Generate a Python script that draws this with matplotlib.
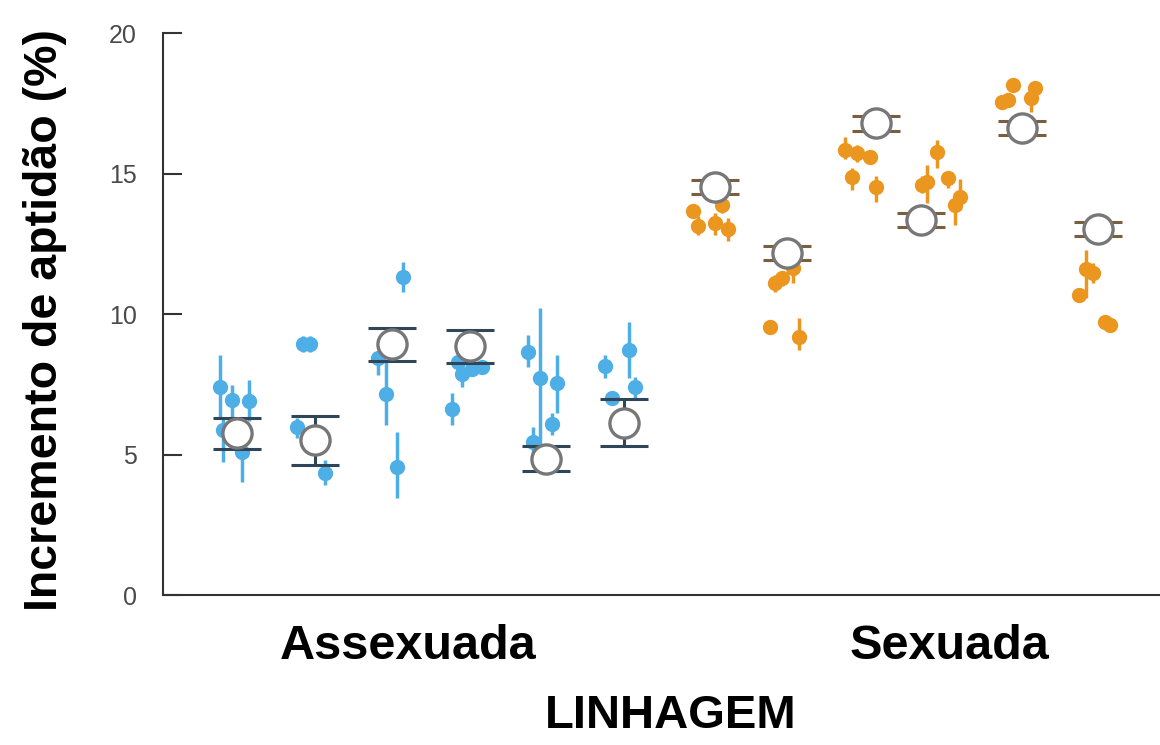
import matplotlib.pyplot as plt

# line positions along the x axis (arbitrary units) and mean fitness gain (%)
asex_pos = [0.95, 1.96, 2.95, 3.96, 4.94, 5.94]
asex_mean = [5.75, 5.5, 8.92, 8.85, 4.85, 6.13]
asex_se = [0.55, 0.88, 0.58, 0.58, 0.45, 0.83]

sex_pos = [7.12, 8.05, 9.2, 9.78, 11.08, 12.06]
sex_mean = [14.52, 12.17, 16.78, 13.35, 16.62, 13.02]
sex_se = [0.26, 0.26, 0.27, 0.26, 0.26, 0.26]

# replicate populations: x, value, upper and lower end of error bar
asex_rep_x = [0.73, 0.89, 1.11, 0.77, 1.02,
              1.81, 1.9, 1.73, 2.09,
              3.1, 2.77, 2.88, 3.02,
              3.73, 3.81, 3.86, 3.99, 4.12,
              4.71, 4.86, 5.08, 5.02, 4.77,
              5.7, 6.01, 6.09, 5.79]
asex_rep_y = [7.4, 6.94, 6.9, 5.87, 5.09,
              8.93, 8.93, 5.98, 4.34,
              11.32, 8.43, 7.15, 4.56,
              6.62, 8.3, 7.85, 8.05, 8.1,
              8.65, 7.72, 7.54, 6.09, 5.44,
              8.15, 8.72, 7.4, 7.01]
asex_rep_hi = [8.54, 7.47, 7.65, 6.3, 5.6,
               9.2, 9.2, 6.3, 4.8,
               11.85, 8.6, 8.36, 5.8,
               7.19, 8.5, 8.1, 8.3, 8.3,
               9.25, 10.2, 8.54, 6.48, 5.98,
               8.54, 9.72, 7.76, 7.2]
asex_rep_lo = [6.33, 6.0, 6.2, 4.75, 4.02,
               8.65, 8.65, 5.6, 3.9,
               10.78, 7.83, 6.05, 3.45,
               6.05, 8.0, 7.4, 7.8, 7.9,
               8.11, 5.27, 6.48, 5.69, 5.0,
               7.72, 7.72, 7.0, 6.8]

sex_rep_x = [6.83, 6.9, 7.12, 7.29, 7.21,
             7.9, 7.99, 8.13, 7.83, 8.21,
             8.8, 8.95, 9.12, 8.89, 9.2,
             9.99, 9.86, 9.79, 10.13, 10.28, 10.22,
             10.825, 10.9, 10.97, 11.25, 11.19,
             11.9, 11.99, 11.82, 12.15, 12.22]
sex_rep_y = [13.67, 13.13, 13.24, 13.02, 13.88,
             11.1, 11.28, 11.64, 9.54, 9.18,
             15.84, 15.73, 15.6, 14.88, 14.52,
             15.77, 14.7, 14.6, 14.84, 14.16, 13.88,
             17.54, 17.6, 18.15, 18.04, 17.69,
             11.6, 11.46, 10.68, 9.72, 9.61]
sex_rep_hi = [13.9, 13.5, 13.6, 13.4, 14.1,
              11.4, 11.5, 11.83, 9.8, 9.86,
              16.3, 16.0, 15.85, 15.2, 14.9,
              16.2, 15.3, 14.9, 15.1, 14.8, 14.3,
              17.75, 17.8, 18.35, 18.25, 17.95,
              12.28, 11.8, 10.9, 9.9, 9.8]
sex_rep_lo = [13.4, 12.8, 12.8, 12.6, 13.6,
              10.8, 11.0, 11.12, 9.3, 8.72,
              15.5, 15.4, 15.35, 14.4, 14.0,
              15.2, 13.95, 14.3, 14.5, 13.7, 13.17,
              17.3, 17.4, 17.95, 17.8, 17.2,
              10.57, 11.1, 10.45, 9.5, 9.4]

group_labels = ['Assexuada', 'Sexuada']
group_label_pos = [3.16, 10.15]

blue = '#4eaee6'
orange = '#eb961e'

fig = plt.figure(figsize=(11.6, 7.45), dpi=100)
ax = fig.add_axes([0.1405, 0.2013, 0.8595, 0.7544])

# replicate populations with their own error bars
for xs, ys, hi, lo, col in [(asex_rep_x, asex_rep_y, asex_rep_hi, asex_rep_lo, blue),
                            (sex_rep_x, sex_rep_y, sex_rep_hi, sex_rep_lo, orange)]:
    err = [[y - l for y, l in zip(ys, lo)], [h - y for y, h in zip(ys, hi)]]
    ax.errorbar(xs, ys, yerr=err, fmt='o', color=col, ms=10, mec=col,
                elinewidth=2.5, capsize=0, zorder=2)

# line means with caps
ax.errorbar(asex_pos, asex_mean, yerr=asex_se, fmt='none', ecolor='#2f4658',
            elinewidth=2.2, capsize=17, capthick=2.2, zorder=3)
ax.errorbar(sex_pos, sex_mean, yerr=sex_se, fmt='none', ecolor='#7a5e40',
            elinewidth=2.2, capsize=17, capthick=2.2, zorder=3)
ax.plot(asex_pos + sex_pos, asex_mean + sex_mean, 'o', ms=21, mfc='white',
        mec='#777777', mew=2.4, zorder=4)

ax.set_xlim(0, 12.86)
ax.set_ylim(0, 20)
ax.set_yticks([0, 5, 10, 15, 20])
ax.set_xticks(group_label_pos)
ax.set_xticklabels(group_labels, fontsize=35, fontweight='bold',
                   family='Liberation Sans')
ax.tick_params(axis='x', length=0, pad=21)
ax.tick_params(axis='y', direction='in', length=14, width=1.5, pad=19,
               labelsize=18, labelcolor='#4a4a4a', color='#333333')
for lab in ax.get_yticklabels():
    lab.set_family('Liberation Sans')

for s in ['top', 'right']:
    ax.spines[s].set_visible(False)
for s in ['left', 'bottom']:
    ax.spines[s].set_linewidth(1.5)
    ax.spines[s].set_color('#333333')
ax.spines['left'].set_bounds(0, 20)

fig.text(671 / 1160, 1 - 716 / 745, 'LINHAGEM', fontsize=34, fontweight='bold',
         family='Liberation Sans', ha='center', va='center')
fig.text(45 / 1160, 1 - 320 / 745, 'Incremento de aptidão (%)', fontsize=33.5,
         fontweight='bold', family='Liberation Sans', rotation=90,
         ha='center', va='center')

fig.savefig('out.png', dpi=100)
